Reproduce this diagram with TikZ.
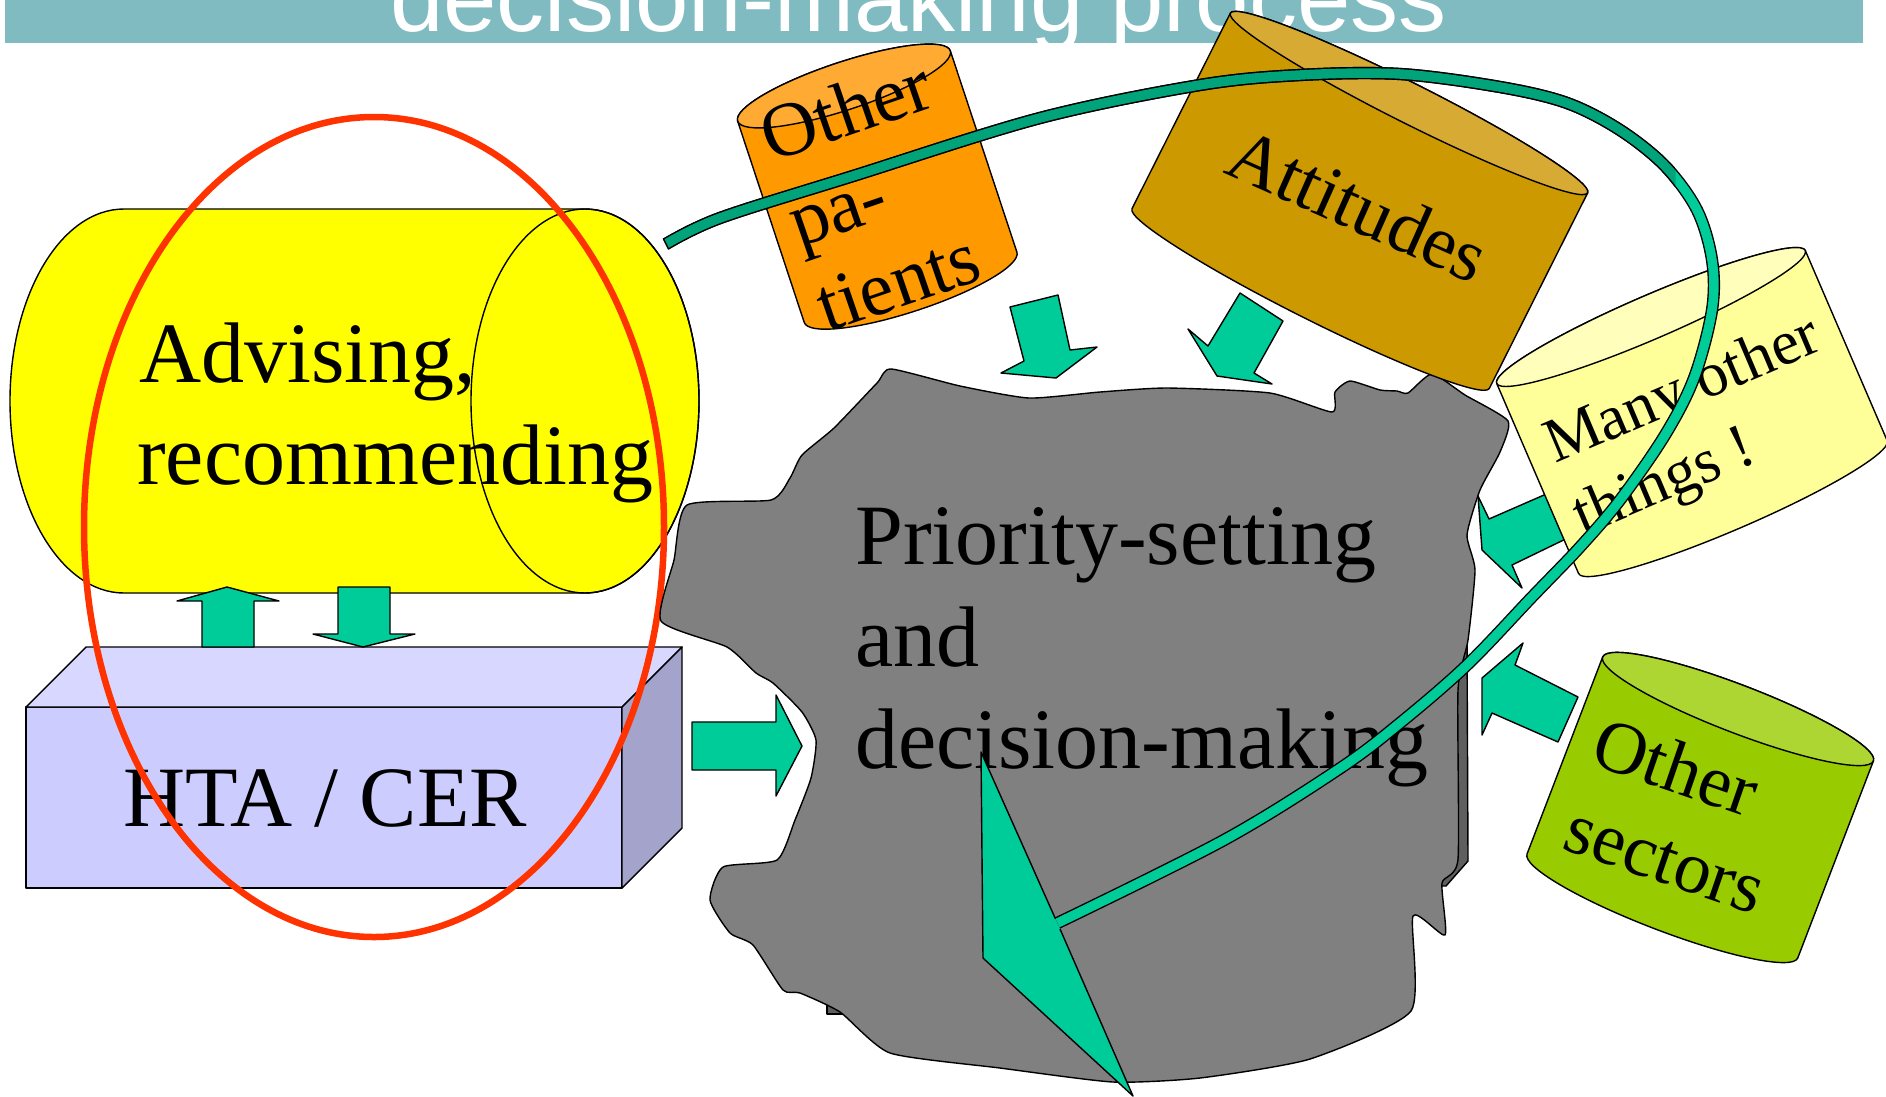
\documentclass[tikz,border=0pt]{standalone}
\usepackage{fontspec}
\setmainfont{Liberation Serif}
\newfontfamily\titlefont{Liberation Sans}
\definecolor{titlebar}{HTML}{80BBC1}
\definecolor{agreen}{HTML}{00CC99}
\definecolor{bandgreen}{HTML}{00A37A}
\definecolor{hred}{HTML}{FF3300}
\definecolor{blobgray}{HTML}{808080}
\definecolor{blobdark}{HTML}{5F5F5F}
\definecolor{advyellow}{HTML}{FFFF00}
\definecolor{htafront}{HTML}{CCCCFF}
\definecolor{htatop}{HTML}{D7D7FF}
\definecolor{htaside}{HTML}{A3A3CC}
\definecolor{patbody}{HTML}{FF9900}
\definecolor{pattop}{HTML}{FFAA33}
\definecolor{attbody}{HTML}{CC9900}
\definecolor{atttop}{HTML}{D6AA33}
\definecolor{manybody}{HTML}{FFFF99}
\definecolor{manytop}{HTML}{FFFFBB}
\definecolor{secbody}{HTML}{99CC00}
\definecolor{sectop}{HTML}{ADD633}
% tilted cylinder: #1 top centre, #2 rotation, #3 major radius, #4 minor radius, #5 length, #6 body colour, #7 top colour
\newcommand{\tiltcyl}[7]{%
  \begin{scope}[shift={#1}, rotate=#2]
    \filldraw[outl, fill=#6] (-#3,0) -- (-#3,#5)
      arc[start angle=180, end angle=0, x radius=#3, y radius=#4]
      -- (#3,0) arc[start angle=0, end angle=-180, x radius=#3, y radius=#4] -- cycle;
    \filldraw[outl, fill=#7] (0,0) ellipse[x radius=#3, y radius=#4];
  \end{scope}}
\begin{document}
\begin{tikzpicture}[x=1pt, y=-1pt, line join=round,
  outl/.style={draw=black, line width=1.4pt},
  blockarrow/.style={outl, fill=agreen},
  txt/.style={inner sep=0pt, anchor=base west},
  bigtxt/.style={txt, font=\fontsize{86}{100}\selectfont},
  cyltxt/.style={txt, font=\fontsize{#1}{#1}\selectfont},
  band/.style={line width=1.4pt, double=#1, double distance=9.5pt}]
\useasboundingbox (0,0) rectangle (1886,1096);
\clip (0,0) rectangle (1886,1096);

% title bar
\fill[titlebar] (5,0) rectangle (1863,43);
\node[txt, text=white, font=\titlefont\fontsize{96}{100}\selectfont] (title) at (390,31) {decision-making process};

% yellow horizontal cylinder
\filldraw[outl, fill=advyellow] (124,209)
  arc[start angle=270, end angle=90, x radius=114, y radius=192]
  -- (585,593) arc[start angle=90, end angle=-90, x radius=114, y radius=192] -- cycle;
\draw[outl] (585,401) ellipse[x radius=114, y radius=192];
\node[bigtxt] (adv1) at (139,382) {Advising,};
\node[bigtxt] (adv2) at (137,484) {recommending};

% HTA box
\filldraw[outl, fill=htafront] (26,707) rectangle (622,888);
\filldraw[outl, fill=htatop] (26,707) -- (86,647) -- (682,647) -- (622,707) -- cycle;
\filldraw[outl, fill=htaside] (622,707) -- (682,647) -- (682,828) -- (622,888) -- cycle;
\node[bigtxt] (hta) at (123,826) {HTA / CER};

% arrows between HTA and advising
\filldraw[blockarrow] (202,647) -- (202,601) -- (177,601) -- (227,587) -- (279,601) -- (254,601) -- (254,647) -- cycle;
\filldraw[blockarrow] (338,587) -- (338,634) -- (313,634) -- (363,647) -- (415,634) -- (390,634) -- (390,587) -- cycle;

% red ellipse
\draw[hred, line width=6.5pt] (374,527) ellipse[x radius=290, y radius=410];

% blob shadow
\filldraw[outl, fill=blobdark] (1440,640) -- (1467,640) -- (1468,861) -- (1446,886) -- (1440,886) -- cycle;
\filldraw[outl, fill=blobdark] (827,1000) -- (827,1014) -- (846,1014) -- (846,1000) -- cycle;
% blob
\filldraw[outl, fill=blobgray] plot[smooth cycle, tension=0.35] coordinates {
 (891,369) (960,386) (1029,398) (1100,392) (1167,388) (1270,393) (1332,412)
 (1335,392) (1350,381) (1380,390) (1397,391) (1408,393) (1432,374) (1465,395)
 (1508,421) (1500,452) (1480,490) (1467,535) (1475,570) (1468,640) (1458,690)
 (1458,859) (1442,883) (1445,935) (1413,916) (1411,1011) (1310,1059) (1200,1078)
 (1113,1082) (1000,1068) (890,1053) (840,1012) (800,993) (783,990) (753,945)
 (730,933) (710,900) (723,867) (777,860) (795,820) (811,778) (816,740) (802,712)
 (773,683) (756,673) (727,647) (661,621) (674,560) (687,505) (771,500) (790,478)
 (802,455) (834,428) (877,383)};
\node[bigtxt] (p1) at (855,564) {Priority-setting};
\node[bigtxt] (p2) at (855,666) {and};
\node[bigtxt] (p3) at (855,768) {decision-making};

% arrow HTA -> blob
\filldraw[blockarrow] (692,722) -- (776,722) -- (776,695) -- (802,746) -- (776,796) -- (776,770) -- (692,770) -- cycle;
% arrows from top cylinders
\filldraw[blockarrow] (1010,307) -- (1058,295) -- (1070,350) -- (1097,347) -- (1056,378) -- (1001,373) -- (1024,361) -- cycle;
\filldraw[blockarrow] (1240,293) -- (1283,321) -- (1254,373) -- (1272,384) -- (1217,376) -- (1188,329) -- (1208,346) -- cycle;

% Other patients
\tiltcyl{(844,86)}{18.3}{112}{24}{212}{patbody}{pattop}
\node[cyltxt=77, rotate=19] (op1) at (771,163) {Other};
\node[cyltxt=77, rotate=19] (op2) at (799,248) {pa-};
\node[cyltxt=77, rotate=19] (op3) at (827,333) {tients};

% Attitudes
\tiltcyl{(1409,103)}{-26.7}{200}{20}{219}{attbody}{atttop}
\node[cyltxt=75, rotate=-24] (att) at (1222,172) {Attitudes};

% arrows from right cylinders
\filldraw[blockarrow] (1478,496) -- (1482,550) -- (1522,588) -- (1512,565) -- (1578,533) -- (1560,488) -- (1489,519) -- cycle;
\filldraw[blockarrow] (1482,678) -- (1523,643) -- (1515,665) -- (1578,697) -- (1558,742) -- (1492,713) -- (1482,735) -- cycle;

% Many other things
\tiltcyl{(1651,317)}{23.3}{168}{22}{207}{manybody}{manytop}
\node[cyltxt=63, rotate=23] (many1) at (1555,464) {Many other};
\node[cyltxt=63, rotate=23] (many2) at (1583,536) {things !};

% Other sectors
\tiltcyl{(1738,709)}{-21}{145}{24}{211}{secbody}{sectop}
\node[cyltxt=74, rotate=-19] (sec1) at (1588,763) {Other};
\node[cyltxt=74, rotate=-19] (sec2) at (1560,848) {sectors};

% big curved arrow
\fill[agreen] (981,752) -- (1056,920) -- (1060,928) -- (1133,1096) -- (983,958) -- cycle;
\draw[band=agreen]
  plot[smooth, tension=0.55] coordinates {
  (666,244) (720,218) (853,176) (1040,118) (1200,85) (1300,75) (1400,74) (1500,87)
  (1567,103) (1620,130) (1665,166) (1697,210) (1712,260) (1712,310) (1694,378)
  (1665,435) (1620,500) (1580,547) (1532,597) (1467,665) (1400,723) (1339,769)
  (1224,840) (1057.5,923)};
\begin{scope}
  \clip (0,0) -- (1675,0) -- (1675,200) -- (900,200) -- (640,300) -- (0,300) -- cycle;
  \draw[band=bandgreen]
  plot[smooth, tension=0.55] coordinates {
  (666,244) (720,218) (853,176) (1040,118) (1200,85) (1300,75) (1400,74) (1500,87)
  (1567,103) (1620,130) (1665,166) (1697,210) (1712,260) (1712,310) (1694,378)
  (1665,435) (1620,500) (1580,547) (1532,597) (1467,665) (1400,723) (1339,769)
  (1224,840) (1057.5,923)};
\end{scope}
\draw[line width=1.4pt] (663.3,238.5) -- (668.7,249.5);
\draw[outl] (1055.3,918.5) -- (981,752) -- (983,958) -- (1133,1096) -- (1060,929);
\end{tikzpicture}
\end{document}
